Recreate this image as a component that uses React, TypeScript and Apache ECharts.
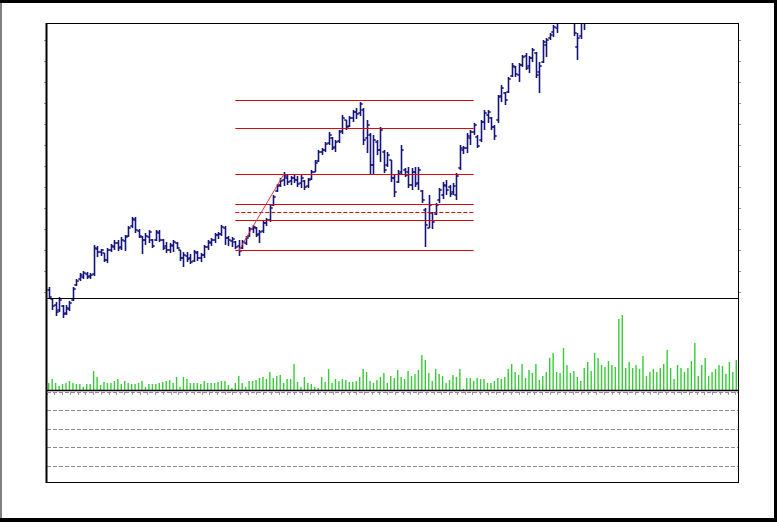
import React, { useEffect, useRef } from "react";
import * as echarts from "echarts";

// ---- Data (price units) ----
const openP = [
  210,201,195,190,194,187,191,200,215,221,
  223,226,224,226,251,248,247,240,250,253,
  257,253,259,264,274,280,269,263,260,263,
  260,260,267,260,254,250,254,257,250,242,
  244,242,239,247,242,245,253,257,260,265,
  266,272,262,259,258,254,252,257,264,271,
  272,266,269,277,280,295,309,315,320,322,
  319,322,320,317,319,314,321,328,339,348,
  350,357,362,353,359,369,380,374,382,388,
  387,390,362,365,335,358,350,348,335,340,
  322,318,328,330,328,315,328,317,309,290,
  272,287,286,300,305,314,313,308,305,332,
  350,352,362,368,363,360,378,385,382,373,
  380,404,407,408,424,433,425,435,444,434,
  442,447,428,438,455,462,468,472,482,490,
  498,492,482,453,464,478,488,495,493,507,
  503,500,517,521,512,527,544,535,529,525,
  531,538,536,547,544,541,552,550,559,556,
  571,566,561,568,574,571,578,585,580,577,
  571,566,569,578,574,580,587,585,590,589,
];
const highP = [
  213,202,198,203,195,195,199,213,221,227,
  229,228,227,255,254,251,247,252,256,260,
  260,263,265,274,283,283,271,264,267,270,
  261,270,270,261,258,257,260,258,250,248,
  248,246,250,249,247,255,260,262,267,268,
  275,274,264,263,259,260,260,264,273,275,
  273,270,279,282,295,305,316,322,328,325,
  324,325,324,325,320,322,330,340,350,352,
  358,368,363,360,370,385,380,384,390,392,
  398,392,380,367,365,360,373,350,348,340,
  325,330,355,332,333,332,333,333,310,292,
  305,288,297,312,318,320,315,317,327,355,
  354,367,370,377,365,380,390,390,383,375,
  405,415,408,423,437,434,437,445,447,444,
  452,448,438,460,462,467,475,482,495,505,
  502,495,485,467,482,490,498,503,510,515,
  512,520,526,524,530,548,552,540,538,535,
  542,546,550,552,549,556,560,563,568,575,
  576,570,572,578,580,582,590,598,588,585,
  580,575,582,586,584,592,596,595,600,604,
];
const lowP = [
  201,190,184,188,182,185,189,199,214,219,
  221,221,221,224,243,244,238,237,248,250,
  249,250,249,263,272,267,262,246,255,257,
  252,259,258,250,247,247,248,251,239,233,
  238,236,238,239,238,242,250,254,257,261,
  264,255,254,253,251,244,251,255,263,267,
  263,257,267,274,278,294,308,313,314,315,
  315,317,313,312,310,312,320,328,338,345,
  348,355,350,348,357,366,370,373,378,381,
  384,355,347,325,325,345,338,327,333,318,
  303,317,325,323,312,310,313,310,297,253,
  272,271,285,297,301,305,303,305,300,330,
  346,347,355,365,352,358,370,377,370,360,
  377,398,395,407,423,423,418,433,430,427,
  438,422,407,437,443,460,463,467,478,485,
  482,480,464,440,461,470,484,490,492,500,
  496,498,512,508,510,522,530,526,520,518,
  528,533,530,540,536,538,546,547,552,550,
  562,559,555,563,566,566,574,578,574,568,
  560,560,566,572,568,576,582,578,585,586,
];
const closeP = [
  203,194,188,200,186,192,197,211,219,225,
  227,223,225,252,248,250,240,250,254,257,
  252,260,263,272,281,270,264,260,264,268,
  254,268,260,252,250,255,258,252,242,245,
  241,238,248,242,245,253,258,260,265,266,
  273,262,260,261,253,249,258,262,271,273,
  265,268,277,280,292,303,314,319,324,318,
  322,320,316,322,313,320,328,337,348,350,
  356,365,352,358,368,382,373,382,388,386,
  396,360,375,335,360,350,370,330,345,322,
  308,326,350,325,315,328,316,330,300,275,
  295,278,295,310,315,310,306,314,324,352,
  352,364,368,375,354,378,387,388,373,364,
  403,412,400,421,434,426,435,443,432,442,
  450,425,434,458,460,465,473,480,490,500,
  488,482,467,462,478,488,495,492,508,503,
  499,518,522,511,528,545,534,530,524,532,
  539,535,548,545,540,553,549,560,555,572,
  565,562,569,575,570,579,586,581,577,572,
  565,570,579,575,581,588,584,591,588,600,
];
const volume = [
  70,110,70,40,60,70,90,70,60,60,
  30,60,60,190,130,50,80,70,70,90,
  110,60,90,70,60,60,70,90,30,60,
  60,60,70,80,90,100,70,130,30,130,
  110,70,70,70,60,90,70,70,70,80,
  90,90,50,20,70,140,70,30,90,90,
  100,120,130,110,180,120,140,150,70,110,
  110,260,80,30,130,70,60,30,20,130,
  80,210,70,110,90,110,100,80,80,90,
  130,210,180,90,70,100,130,170,70,140,
  120,200,130,110,190,140,160,200,350,300,
  170,90,210,160,140,70,100,150,130,210,
  10,120,120,90,120,110,110,70,70,90,
  120,110,130,210,260,180,150,260,120,200,
  170,260,100,140,180,320,370,180,170,420,
  250,170,190,130,90,220,280,190,370,320,
  250,230,290,250,230,710,750,220,280,220,
  250,210,340,140,180,210,180,220,260,400,
  220,110,250,220,180,220,290,470,140,250,
  320,140,180,210,250,240,160,280,180,300,
];
const categories = openP.map((_, i) => String(i + 1));

// Retracement levels (price) and which one is dashed
const fibLevels = [399.5, 371.5, 325.5, 295.5, 287.5, 279.5, 249.5];
const fibDashed = [false, false, false, false, true, false, false];
const fibStartIdx = 54;
const fibEndIdx = 123;
const trendLine = [
  [55, 249.5],
  [68, 325.5],
];
// Tick positions on the price axis
const priceTicks = [459.3, 438.3, 417.4, 396.4, 375.4, 354.5, 333.5, 312.5, 291.5, 270.6, 249.6, 228.6, 207.7];

export default function App() {
  const ref = useRef<HTMLDivElement>(null);
  useEffect(() => {
    if (!ref.current) return;
    const chart = echarts.init(ref.current, null, { renderer: "svg" });
    const ohlc = categories.map((_, i) => [i, openP[i], highP[i], lowP[i], closeP[i]]);
    const barColor = "#16167a";
    const tickStyle = { color: "#9a9a9a", width: 1 };
    const fibSeries = fibLevels.map((v, k) => ({
      type: "line",
      name: "level" + k,
      xAxisIndex: 0,
      yAxisIndex: 0,
      data: [
        [fibStartIdx, v],
        [fibEndIdx, v],
      ],
      symbol: "none",
      silent: true,
      color: "#d40c0c",
      lineStyle: { color: "#d40c0c", width: 1.1, type: fibDashed[k] ? [4, 2] : "solid" },
      z: 4,
    }));
    const option: any = {
      animation: false,
      backgroundColor: "#000",
      graphic: [
        { type: "rect", z: 0, shape: { x: 0, y: 3, width: 2, height: 515 }, style: { fill: "#808080" } },
        { type: "rect", z: 0, shape: { x: 2, y: 3, width: 772, height: 515 }, style: { fill: "#ffffff" } },
        { type: "line", z: 50, shape: { x1: 47, y1: 23.5, x2: 738.5, y2: 23.5 }, style: { stroke: "#000", lineWidth: 1 } },
        { type: "line", z: 50, shape: { x1: 738.5, y1: 23, x2: 738.5, y2: 483 }, style: { stroke: "#000", lineWidth: 1 } },
        { type: "line", z: 50, shape: { x1: 46, y1: 482.5, x2: 739, y2: 482.5 }, style: { stroke: "#000", lineWidth: 1.2 } },
        { type: "line", z: 50, shape: { x1: 46.5, y1: 23, x2: 46.5, y2: 483 }, style: { stroke: "#000", lineWidth: 2 } },
        { type: "line", z: 50, shape: { x1: 47, y1: 298.5, x2: 738, y2: 298.5 }, style: { stroke: "#000", lineWidth: 1 } },
        { type: "line", z: 50, shape: { x1: 47, y1: 390.5, x2: 738, y2: 390.5 }, style: { stroke: "#000", lineWidth: 1.4 } },
        { type: "line", z: 50, shape: { x1: 47, y1: 392.5, x2: 738, y2: 392.5 }, style: { stroke: "#a07ab0", lineWidth: 1, lineDash: [4, 2] } },
      ],
      grid: [
        { left: 47, top: 23, width: 691, height: 276 },
        { left: 47, top: 299, width: 691, height: 91 },
        { left: 47, top: 392, width: 691, height: 90 },
      ],
      xAxis: [
        { type: "category", gridIndex: 0, data: categories, show: false },
        { type: "category", gridIndex: 1, data: categories, show: false },
        {
          type: "value", gridIndex: 2, min: 0, max: 89.3, interval: 1,
          axisLine: { show: false }, axisLabel: { show: false }, splitLine: { show: false },
          axisTick: { show: true, length: 3, lineStyle: tickStyle },
        },
      ],
      yAxis: [
        {
          type: "value", gridIndex: 0, min: 201, max: 477, position: "left",
          axisLine: { show: false }, axisLabel: { show: false }, splitLine: { show: false },
          axisTick: { show: true, length: 3, customValues: priceTicks, lineStyle: tickStyle },
        },
        {
          type: "value", gridIndex: 0, min: 201, max: 477, position: "right",
          axisLine: { show: false }, axisLabel: { show: false }, splitLine: { show: false },
          axisTick: { show: true, length: 3, customValues: priceTicks, lineStyle: tickStyle },
        },
        { type: "value", gridIndex: 1, min: 0, max: 910, show: false },
        {
          type: "value", gridIndex: 2, min: 0, max: 90, interval: 18.5, inverse: true,
          axisLine: { show: false }, axisLabel: { show: false }, axisTick: { show: false },
          splitLine: { show: true, lineStyle: { color: "#8a8a8a", width: 1, type: [4, 2] } },
        },
      ],
      series: [
        {
          type: "custom",
          name: "price",
          xAxisIndex: 0,
          yAxisIndex: 0,
          clip: false,
          data: ohlc,
          encode: { x: 0, y: [1, 2, 3, 4] },
          renderItem: (params: any, api: any) => {
            const i = api.value(0);
            const x = Math.round(api.coord([i, api.value(1)])[0]) + 0.5;
            const yO = api.coord([i, api.value(1)])[1];
            const yH = api.coord([i, api.value(2)])[1];
            const yL = api.coord([i, api.value(3)])[1];
            const yC = api.coord([i, api.value(4)])[1];
            const top = params.coordSys.y;
            const children: any[] = [];
            const st = { stroke: barColor, lineWidth: 1.6 };
            if (yL >= top) {
              children.push({ type: "line", shape: { x1: x, y1: Math.max(yH, top), x2: x, y2: yL }, style: st });
              if (yO >= top) children.push({ type: "line", shape: { x1: x - 2.2, y1: yO, x2: x, y2: yO }, style: st });
              if (yC >= top) children.push({ type: "line", shape: { x1: x, y1: yC, x2: x + 2.2, y2: yC }, style: st });
            }
            return { type: "group", children };
          },
          z: 3,
        },
        ...fibSeries,
        {
          type: "line",
          name: "trend",
          xAxisIndex: 0,
          yAxisIndex: 0,
          data: trendLine,
          symbol: "none",
          color: "#e83a3a",
          lineStyle: { color: "#e83a3a", width: 1 },
          z: 5,
        },
        {
          type: "bar",
          name: "volume",
          xAxisIndex: 1,
          yAxisIndex: 2,
          data: volume,
          barWidth: 1.4,
          itemStyle: { color: "#35cc35" },
        },
      ],
    };
    chart.setOption(option);
    return () => chart.dispose();
  }, []);
  return (
    <div
      ref={ref}
      style={{ position: "fixed", left: 0, top: 0, width: 777, height: 522 }}
    />
  );
}
